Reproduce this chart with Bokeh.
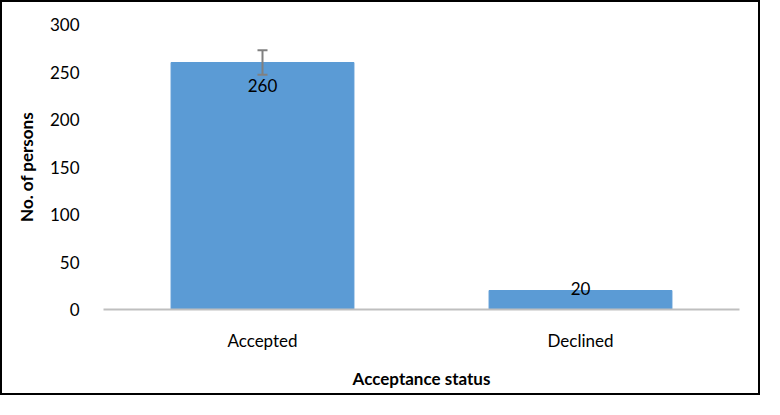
from bokeh.plotting import figure
from bokeh.models import ColumnDataSource, Whisker, FactorRange
from bokeh.core.properties import value
from bokeh.embed import file_html
from bokeh.resources import INLINE

categories = ["Accepted", "Declined"]
counts = [260, 20]
labels = ["260", "20"]
err_upper = [273]
err_lower = [247]

FONT = "Lato"

p = figure(x_range=FactorRange(*categories), y_range=(0, 300),
           width=760, height=395, output_backend="svg", toolbar_location=None,
           min_border_left=101, min_border_right=23, min_border_top=22, min_border_bottom=88)

src = ColumnDataSource(dict(cat=categories, val=counts))
p.vbar(x="cat", top="val", width=0.575, source=src, fill_color="#5B9BD5", line_color="#5B9BD5")

esrc = ColumnDataSource(dict(cat=categories[:1], up=err_upper, lo=err_lower))
w = Whisker(base="cat", upper="up", lower="lo", source=esrc, line_color="#808080", line_width=2,
            level="annotation")
for h in (w.upper_head, w.lower_head):
    h.size = 10
    h.line_color = "#808080"
    h.line_width = 2
p.add_layout(w)

lsrc = ColumnDataSource(dict(cat=categories, val=counts, lab=labels, off=[23, -2]))
p.text(x="cat", y="val", text="lab", source=lsrc, text_align="center", text_baseline="middle",
       y_offset="off", text_font=value(FONT), text_font_size="17px", text_color="#000000")

p.xgrid.visible = False
p.ygrid.visible = False
p.outline_line_color = None

p.yaxis.ticker = [0, 50, 100, 150, 200, 250, 300]
p.yaxis.axis_line_color = None
p.yaxis.major_tick_line_color = None
p.yaxis.minor_tick_line_color = None
p.yaxis.major_label_standoff = 18
p.yaxis.major_label_text_font = FONT
p.yaxis.major_label_text_font_size = "17px"
p.yaxis.major_label_text_color = "#000000"
p.yaxis.axis_label = "No. of persons"
p.yaxis.axis_label_text_font = FONT
p.yaxis.axis_label_text_font_size = "17px"
p.yaxis.axis_label_text_font_style = "bold"
p.yaxis.axis_label_text_color = "#000000"
p.yaxis.axis_label_standoff = 10

p.xaxis.axis_line_color = "#BFBFBF"
p.xaxis.axis_line_width = 2
p.xaxis.major_tick_line_color = None
p.xaxis.minor_tick_line_color = None
p.xaxis.major_label_standoff = 14
p.xaxis.major_label_text_font = FONT
p.xaxis.major_label_text_font_size = "17px"
p.xaxis.major_label_text_color = "#000000"
p.xaxis.axis_label = "Acceptance status"
p.xaxis.axis_label_text_font = FONT
p.xaxis.axis_label_text_font_size = "17px"
p.xaxis.axis_label_text_font_style = "bold"
p.xaxis.axis_label_text_color = "#000000"
p.xaxis.axis_label_standoff = 14

p.styles = {"border": "2px solid black"}

open("out.html", "w").write(file_html(p, INLINE))
